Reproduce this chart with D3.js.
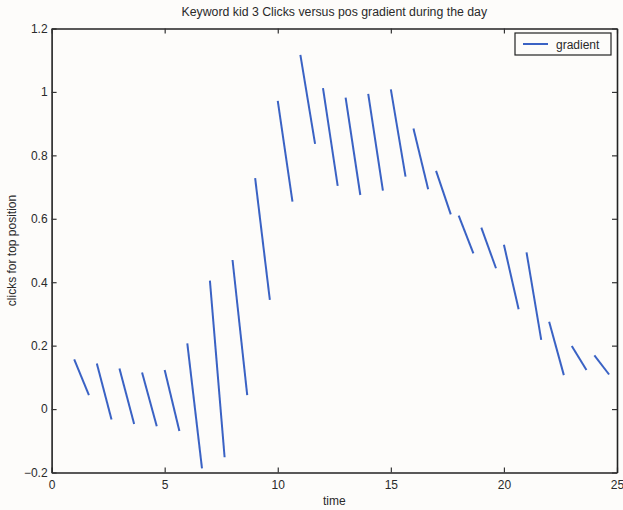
<!DOCTYPE html>
<html>
<head>
<meta charset="utf-8">
<script src="https://cdn.jsdelivr.net/npm/d3@7"></script>
<style>
  body { margin: 0; background: #fdfcfa; }
  .text { font-family: "Liberation Sans", Arial, sans-serif; fill: #2a2a2a; }
</style>
</head>
<body>
<div class="chart"></div>
<script>
// hour at which each gradient segment starts
var hours = [1, 2, 3, 4, 5, 6, 7, 8, 9, 10, 11, 12, 13, 14, 15, 16, 17, 18, 19, 20, 21, 22, 23, 24];
// clicks at segment start / end
var startVals = [0.157, 0.144, 0.128, 0.115, 0.123, 0.207, 0.405, 0.470, 0.728, 0.972, 1.117, 1.012,
                 0.982, 0.994, 1.008, 0.885, 0.751, 0.610, 0.572, 0.518, 0.494, 0.275, 0.199, 0.169];
var endVals = [0.044, -0.033, -0.047, -0.054, -0.069, -0.187, -0.152, 0.044, 0.344, 0.654, 0.836, 0.704,
               0.675, 0.689, 0.733, 0.693, 0.614, 0.491, 0.444, 0.315, 0.218, 0.107, 0.123, 0.109];
var segLength = 0.65; // hours covered by each segment
var xTicks = [0, 5, 10, 15, 20, 25];
var yTicks = [-0.2, 0, 0.2, 0.4, 0.6, 0.8, 1, 1.2];

function draw() {
    var width = 623,
        height = 510,
        margin = { top: 28.5, right: 6, bottom: 37.5, left: 51.6 },
        w = width - margin.left - margin.right,
        h = height - margin.top - margin.bottom;

    var svg = d3.select(".chart")
        .append("svg")
        .attr("width", width)
        .attr("height", height);

    var g = svg.append("g")
        .attr("transform", "translate(" + margin.left + "," + margin.top + ")");

    var x = d3.scaleLinear().domain([0, 25]).range([0, w]);
    var y = d3.scaleLinear().domain([-0.2, 1.2]).range([h, 0]);

    var data = hours.map(function(d, i) {
        return { x0: d, x1: d + segLength, y0: startVals[i], y1: endVals[i] };
    });

    // segments
    g.selectAll(".seg")
        .data(data)
        .enter()
        .append("line")
        .attr("class", "seg")
        .attr("x1", function(d) { return x(d.x0); })
        .attr("y1", function(d) { return y(d.y0); })
        .attr("x2", function(d) { return x(d.x1); })
        .attr("y2", function(d) { return y(d.y1); })
        .style("stroke", "#3a62c4")
        .style("stroke-width", 2);

    // axes, matlab style: ticks inside, box on
    var axisStyle = function(sel) {
        sel.select(".domain").style("stroke", "#222").style("stroke-width", 1.6);
        sel.selectAll(".tick line").style("stroke", "#333").style("stroke-width", 1.2);
        sel.selectAll("text").attr("class", "text").style("font-size", "12px").style("fill", "#2a2a2a");
    };

    g.append("g")
        .attr("transform", "translate(0," + h + ")")
        .call(d3.axisBottom(x).tickValues(xTicks).tickSizeInner(-5).tickSizeOuter(0).tickPadding(8))
        .call(axisStyle)
        .call(function(s) { s.selectAll("text").attr("dy", "0.71em"); });

    g.append("g")
        .call(d3.axisLeft(y).tickValues(yTicks).tickSizeInner(-5).tickSizeOuter(0).tickPadding(4)
            .tickFormat(d3.format("")))
        .call(axisStyle);

    g.append("g")
        .call(d3.axisTop(x).tickValues(xTicks).tickSizeInner(-5).tickSizeOuter(0).tickFormat(""))
        .call(axisStyle);

    g.append("g")
        .attr("transform", "translate(" + w + ",0)")
        .call(d3.axisRight(y).tickValues(yTicks).tickSizeInner(-5).tickSizeOuter(0).tickFormat(""))
        .call(axisStyle);

    // axis labels
    svg.append("text")
        .attr("class", "text")
        .attr("x", margin.left + w / 2)
        .attr("y", height - 5)
        .attr("text-anchor", "middle")
        .style("font-size", "12px")
        .text("time");

    svg.append("text")
        .attr("class", "text")
        .attr("transform", "rotate(-90)")
        .attr("x", -(margin.top + h / 2))
        .attr("y", 16)
        .attr("text-anchor", "middle")
        .style("font-size", "12px")
        .text("clicks for top position");

    // title
    svg.append("text")
        .attr("class", "text")
        .attr("x", margin.left + w / 2)
        .attr("y", 16)
        .attr("text-anchor", "middle")
        .style("font-size", "12.3px")
        .text("Keyword kid 3 Clicks versus pos gradient during the day");

    // legend
    var leg = svg.append("g").attr("transform", "translate(515,33)");
    leg.append("rect")
        .attr("width", 96)
        .attr("height", 22)
        .style("fill", "#fdfcfa")
        .style("stroke", "#222")
        .style("stroke-width", 1.2);
    leg.append("line")
        .attr("x1", 8).attr("x2", 33)
        .attr("y1", 11).attr("y2", 11)
        .style("stroke", "#3a62c4")
        .style("stroke-width", 2);
    leg.append("text")
        .attr("class", "text")
        .attr("x", 41)
        .attr("y", 15.5)
        .style("font-size", "12px")
        .text("gradient");
}

draw();
</script>
</body>
</html>
